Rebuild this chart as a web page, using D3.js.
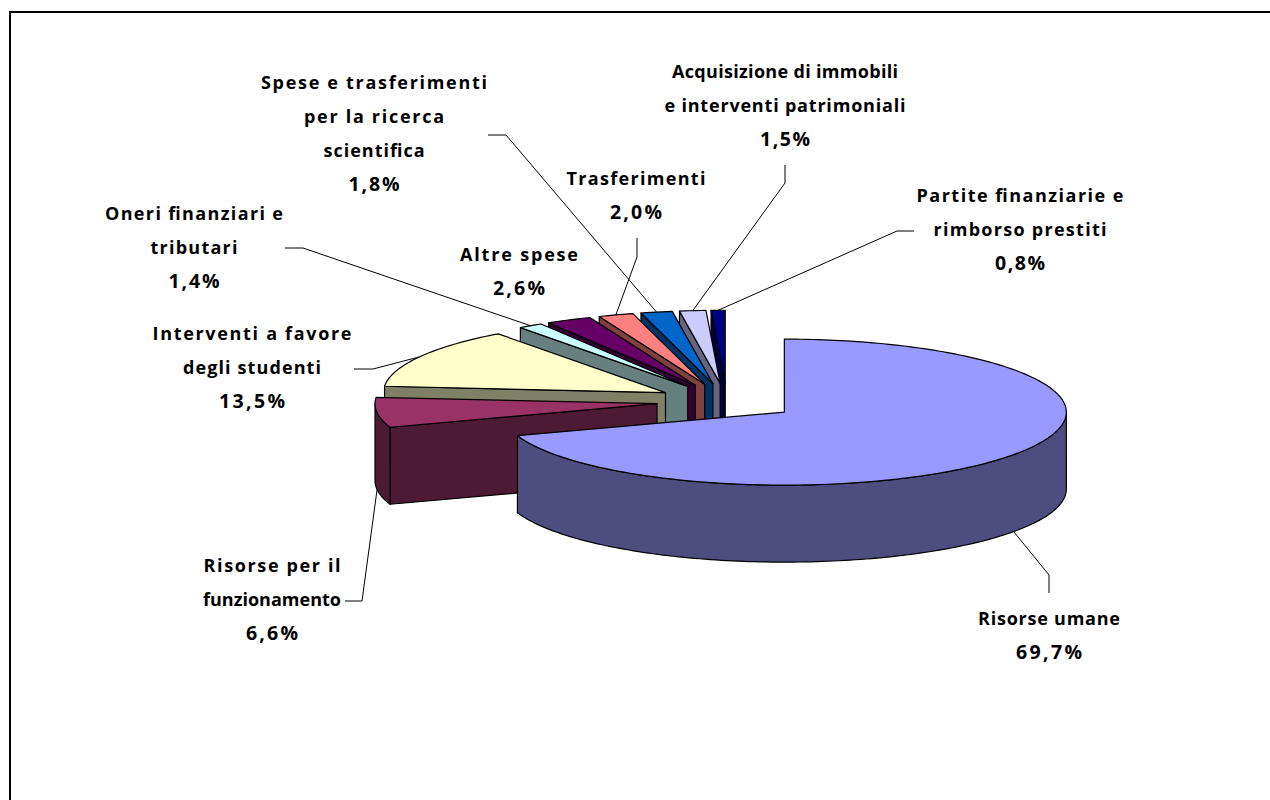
<!DOCTYPE html>
<html>
<head>
<meta charset="utf-8">
<script src="https://cdn.jsdelivr.net/npm/d3@7.9.0/dist/d3.min.js"></script>
<style>
  html, body { margin: 0; padding: 0; background: #fff; overflow: hidden; }
  svg { display: block; }
  text { font-family: "Comic Sans MS", "Open Sans", sans-serif; font-weight: 700; font-size: 18px; fill: #000; text-anchor: middle; }
  tspan.pct { font-size: 19.5px; }
</style>
</head>
<body>
<svg width="1270" height="800"></svg>
<script>
const categories = [
    'Risorse umane',
    'Risorse per il funzionamento',
    'Interventi a favore degli studenti',
    'Oneri finanziari e tributari',
    'Altre spese',
    'Trasferimenti',
    'Spese e trasferimenti per la ricerca scientifica',
    'Acquisizione di immobili e interventi patrimoniali',
    'Partite finanziarie e rimborso prestiti'
];
const values = [69.7, 6.6, 13.5, 1.4, 2.6, 2.0, 1.8, 1.5, 0.8];
const labelLines = [
    ['Risorse umane'],
    ['Risorse per il', 'funzionamento'],
    ['Interventi a favore', 'degli studenti'],
    ['Oneri finanziari e', 'tributari'],
    ['Altre spese'],
    ['Trasferimenti'],
    ['Spese e trasferimenti', 'per la ricerca', 'scientifica'],
    ['Acquisizione di immobili', 'e interventi patrimoniali'],
    ['Partite finanziarie e', 'rimborso prestiti']
];
const topColors = ['#9999FF', '#993366', '#FFFFCC', '#CCFFFF', '#660066', '#FF8080', '#0066CC', '#CCCCFF', '#000080'];
const sideColors = ['#4D4D80', '#4D1A33', '#808066', '#668080', '#330033', '#804040', '#003366', '#666680', '#000040'];

// label centre x and y of the first line
const labelPos = [
    [1049, 619], [272, 566], [252, 334], [194, 214], [519, 255],
    [636, 179], [374, 83], [785, 72], [1020, 196]
];
const lineStep = 34;
// width of each label line in px, the fallback font is narrower than the original one
const lineWidths = [
    [142, 66],
    [137, 138, 52],
    [199, 138, 66],
    [178, 87, 51],
    [118, 52],
    [139, 52],
    [226, 140, 101, 51],
    [226, 241, 50],
    [207, 173, 50]
];
// leader lines: from the slice to an elbow and on to the label (null = none)
const leaders = [
    [[1049, 575], [1049, 593]],
    [[362, 601], [345, 601]],
    [[373, 369], [354, 369]],
    [[303, 248], [285, 248]],
    null,
    [[637, 257], [637, 238]],
    [[506, 135], [488, 135]],
    [[785, 183], [785, 165]],
    [[897, 231], [914, 231]]
];

const rx = 282, ry = 73, depth = 77, explode = 0.25;
const cx = 727, cy = 401.5;

const svg = d3.select('svg');

// frame only on the top and left, the rest is cut off by the page
svg.append('path')
    .attr('d', d3.line()([[10, 800], [10, 12], [1270, 12]]))
    .attr('fill', 'none').attr('stroke', '#000').attr('stroke-width', 2);

const xScale = d3.scaleLinear().domain([-1, 1]).range([cx - rx, cx + rx]);
const yScale = d3.scaleLinear().domain([-1, 1]).range([cy - ry, cy + ry]);
const line = d3.line();

const arcData = d3.pie().sort(null).startAngle(0).endAngle(2 * Math.PI)(values);

// angle measured clockwise from the top, r in pie radii, dz in px below the top face
function project(angle, r, mid, dz = 0) {
    const ox = explode * Math.sin(mid);
    const oy = -explode * Math.cos(mid);
    return [xScale(ox + r * Math.sin(angle)), yScale(oy - r * Math.cos(angle)) + dz];
}

function arcPoints(a0, a1, mid, dz) {
    const n = Math.max(2, Math.ceil(Math.abs(a1 - a0) / 0.02));
    return d3.range(n + 1).map(i => project(a0 + (a1 - a0) * i / n, 1, mid, dz));
}

function drawFace(pts, fill) {
    svg.append('path')
        .attr('d', line(pts) + 'Z')
        .attr('fill', fill)
        .attr('stroke', '#000')
        .attr('stroke-width', 1.2)
        .attr('stroke-linejoin', 'round');
}

// back slices first so the nearer ones cover them, the big slice goes last
const drawOrder = d3.range(1, arcData.length).reverse().concat([0]);

drawOrder.forEach(i => {
    const d = arcData[i];
    const mid = (d.startAngle + d.endAngle) / 2;

    // cut face on the start side, faces the viewer only when its normal points down
    if (Math.cos(d.startAngle - Math.PI / 2) < 0) {
        const a = project(0, 0, mid);
        const b = project(d.startAngle, 1, mid);
        drawFace([a, b, [b[0], b[1] + depth], [a[0], a[1] + depth]], sideColors[i]);
    }

    // outer wall, only the part on the front half of the ellipse
    const wall0 = Math.max(d.startAngle, Math.PI / 2);
    const wall1 = Math.min(d.endAngle, 3 * Math.PI / 2);
    if (wall1 > wall0) {
        const front = arcPoints(wall0, wall1, mid, 0);
        const back = arcPoints(wall1, wall0, mid, depth);
        drawFace(front.concat(back), sideColors[i]);
    }

    const top = [project(0, 0, mid)].concat(arcPoints(d.startAngle, d.endAngle, mid, 0));
    drawFace(top, topColors[i]);
});

// leader lines start at the middle of the slice rim
arcData.forEach((d, i) => {
    if (!leaders[i]) return;
    const mid = (d.startAngle + d.endAngle) / 2;
    const isFront = mid > Math.PI / 2 && mid < 3 * Math.PI / 2;
    const start = project(mid, 1, mid, isFront ? depth : 0);
    svg.append('path')
        .attr('d', line([start].concat(leaders[i])))
        .attr('fill', 'none')
        .attr('stroke', '#000')
        .attr('stroke-width', 1);
});

const percent = v => v.toFixed(1).replace('.', ',') + '%';

labelLines.forEach((lines, i) => {
    const t = svg.append('text');
    lines.concat([percent(values[i])]).forEach((s, j) => {
        t.append('tspan')
            .attr('class', j === lines.length ? 'pct' : null)
            .attr('x', labelPos[i][0])
            .attr('y', labelPos[i][1] + j * lineStep + 6)
            .attr('textLength', lineWidths[i][j])
            .attr('lengthAdjust', 'spacing')
            .text(s);
    });
});
</script>
</body>
</html>
